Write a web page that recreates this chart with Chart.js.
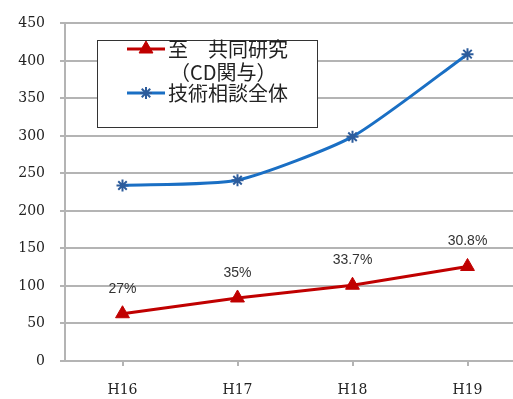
<!DOCTYPE html>
<html>
<head>
<meta charset="utf-8">
<script src="https://cdn.jsdelivr.net/npm/chart.js@4/dist/chart.umd.min.js"></script>
<style>
  html, body { margin: 0; padding: 0; background: #fff; overflow: hidden; }
  #wrap { width: 534px; height: 399px; }
</style>
</head>
<body>
<div id="wrap"><canvas id="chart" width="534" height="399"></canvas></div>
<script>
// Fiscal years (Heisei)
const years = ['H16', 'H17', 'H18', 'H19'];
// Joint research involving CD
const jointResearch = [63, 84, 101, 126];
// All technical consultations
const consultations = [234, 241, 299, 409];
// Share of joint research in consultations
const shareLabels = ['27%', '35%', '33.7%', '30.8%'];

const jointLegend = ['至\u3000共同研究', '\uFF08CD関与\uFF09'];
const consultLegend = ['技術相談全体'];

const RED = '#c00000';
const BLUE = '#1a6fc4';
const STAR = '#2c5c9c';
const GRID = '#b4b4b4';

// percentage labels above the red points
const shareLabelPlugin = {
    id: 'shareLabels',
    afterDatasetsDraw(chart) {
        const ctx = chart.ctx;
        const meta = chart.getDatasetMeta(0);
        ctx.save();
        ctx.font = '14px "Liberation Sans", Arial, sans-serif';
        ctx.fillStyle = '#333';
        ctx.textAlign = 'center';
        ctx.textBaseline = 'middle';
        meta.data.forEach((pt, i) => {
            ctx.fillText(shareLabels[i], pt.x, pt.y - 25);
        });
        ctx.restore();
    }
};

// boxed legend with the two-line label for the first series
const boxLegendPlugin = {
    id: 'boxLegend',
    afterDraw(chart) {
        const ctx = chart.ctx;
        const x0 = 97.5, y0 = 40.5, w = 220, h = 87;
        ctx.save();
        ctx.fillStyle = '#fff';
        ctx.fillRect(x0, y0, w, h);
        ctx.strokeStyle = '#333';
        ctx.lineWidth = 1;
        ctx.strokeRect(x0, y0, w, h);

        const rows = [
            { ds: chart.data.datasets[0], y: 49 },
            { ds: chart.data.datasets[1], y: 93 }
        ];
        rows.forEach(r => {
            ctx.strokeStyle = r.ds.borderColor;
            ctx.lineWidth = 3;
            ctx.beginPath();
            ctx.moveTo(127, r.y);
            ctx.lineTo(165, r.y);
            ctx.stroke();

            ctx.fillStyle = r.ds.pointBackgroundColor;
            ctx.strokeStyle = r.ds.pointBorderColor;
            ctx.lineWidth = r.ds.pointBorderWidth;
            Chart.helpers.drawPoint(ctx, {
                pointStyle: r.ds.pointStyle,
                radius: r.ds.pointRadius,
                borderWidth: r.ds.pointBorderWidth
            }, 146, r.y);
        });

        ctx.fillStyle = '#222';
        ctx.font = '20px "Noto Sans CJK JP", sans-serif';
        ctx.textBaseline = 'middle';
        ctx.textAlign = 'left';
        ctx.fillText(jointLegend[0], 168, 49);
        ctx.fillText(jointLegend[1], 170, 72);
        ctx.fillText(consultLegend[0], 168, 93);
        ctx.restore();
    }
};

new Chart(document.getElementById('chart'), {
    type: 'line',
    data: {
        labels: years,
        datasets: [
            {
                label: jointLegend.join(''),
                data: jointResearch,
                borderColor: RED,
                borderWidth: 3,
                pointStyle: 'triangle',
                pointRadius: 8,
                pointBorderWidth: 1,
                pointBackgroundColor: RED,
                pointBorderColor: RED,
                tension: 0
            },
            {
                label: consultLegend[0],
                data: consultations,
                borderColor: BLUE,
                borderWidth: 3,
                pointStyle: 'star',
                pointRadius: 6,
                pointBorderWidth: 2,
                pointBackgroundColor: STAR,
                pointBorderColor: STAR,
                tension: 0.2
            }
        ]
    },
    options: {
        responsive: false,
        animation: false,
        layout: { padding: { top: 21, left: 0, right: 1, bottom: 0 } },
        plugins: {
            legend: { display: false },
            tooltip: { enabled: false }
        },
        scales: {
            x: {
                offset: true,
                afterFit(scale) { scale.height = 38; },
                grid: {
                    drawOnChartArea: false,
                    color: GRID,
                    lineWidth: 2,
                    tickLength: 5
                },
                border: { color: GRID, width: 2 },
                ticks: {
                    color: '#222',
                    padding: 16,
                    font: { family: '"DejaVu Serif", "Liberation Serif", serif', size: 14 }
                }
            },
            y: {
                min: 0,
                max: 450,
                afterFit(scale) { scale.width = 65; },
                grid: {
                    color: GRID,
                    lineWidth: 2,
                    tickLength: 5
                },
                border: { color: GRID, width: 2 },
                ticks: {
                    stepSize: 50,
                    color: '#222',
                    padding: 15,
                    font: { family: '"DejaVu Serif", "Liberation Serif", serif', size: 14 }
                }
            }
        }
    },
    plugins: [shareLabelPlugin, boxLegendPlugin]
});
</script>
</body>
</html>
